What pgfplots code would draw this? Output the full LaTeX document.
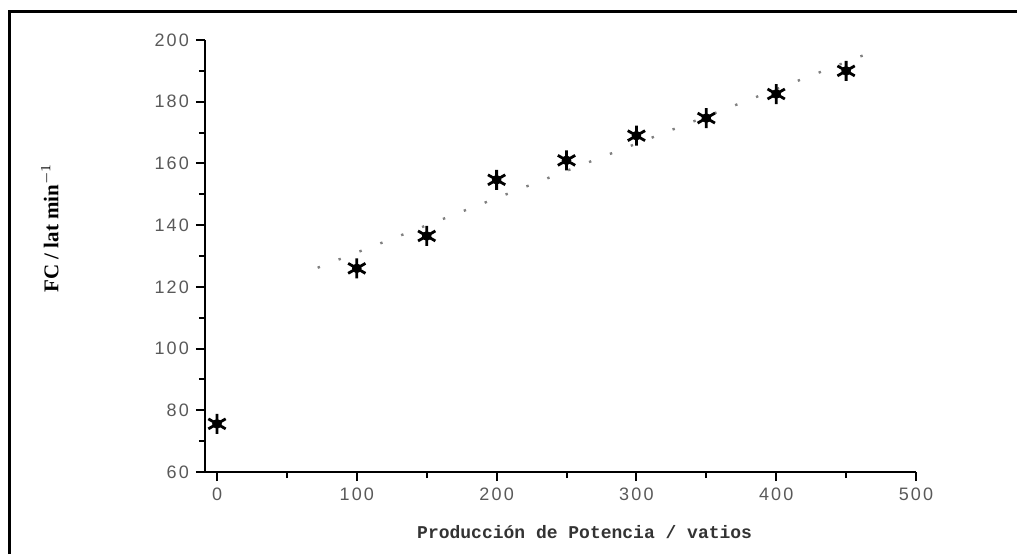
\documentclass[border=0pt]{standalone}
\usepackage{pgfplots}
\pgfplotsset{compat=1.18}
\usepackage{fontspec}
\setmainfont{Liberation Sans}
\newfontfamily\tickfont[LetterSpace=12]{Liberation Sans}
\newfontfamily\labfont{Liberation Mono}
\newfontfamily\ylabfont{Liberation Serif}
\begin{document}
\begin{tikzpicture}
\useasboundingbox (-102.5pt,-41pt) rectangle (406pt,236pt);
\draw[line width=1.5pt] (-97.5pt,-41pt) -- (-97.5pt,230.5pt) -- (406pt,230.5pt);
\begin{axis}[
  at={(0pt,0pt)}, anchor=south west,
  scale only axis, width=355.5pt, height=216pt,
  xmin=-8.6, xmax=500, ymin=60, ymax=200,
  axis x line=bottom, axis y line=left,
  axis line style={-, line width=1pt},
  xtick={0,100,...,500}, ytick={60,80,...,200},
  minor x tick num=1, minor y tick num=1,
  tick align=outside,
  major tick length=4.5pt, minor tick length=3pt,
  every tick/.style={line width=1pt, black},
  tick label style={font=\fontsize{9}{10}\tickfont, text=black!65},
  /pgf/number format/assume math mode=true,
  xlabel={Producción de Potencia / vatios},
  xlabel style={font=\fontsize{9}{10}\labfont\bfseries, text=black!80, at={(rel axis cs:0.534,0)}, anchor=base, yshift=-33pt},
  ylabel={FC / lat min$^{-1}$},
  ylabel style={font=\fontsize{10.5}{12}\ylabfont\bfseries, at={(rel axis cs:-0.218,0.565)}, anchor=center, rotate=0},
  clip=false,
]
\addplot[gray, line width=1.2pt, dash pattern=on 1.2pt off 10pt] coordinates {(72,126.2) (470,196.4)};
\addplot[only marks, mark=asterisk, mark size=5pt, mark options={line width=1.4pt, black}] coordinates {
(0,75.6) (100,126) (150,136.5) (200,154.7) (250,161) (300,169) (350,174.7) (400,182.5) (450,190)};
\addplot[only marks, mark=*, mark size=2.2pt, mark options={black}] coordinates {
(0,75.6) (100,126) (150,136.5) (200,154.7) (250,161) (300,169) (350,174.7) (400,182.5) (450,190)};
\end{axis}
\end{tikzpicture}
\end{document}
